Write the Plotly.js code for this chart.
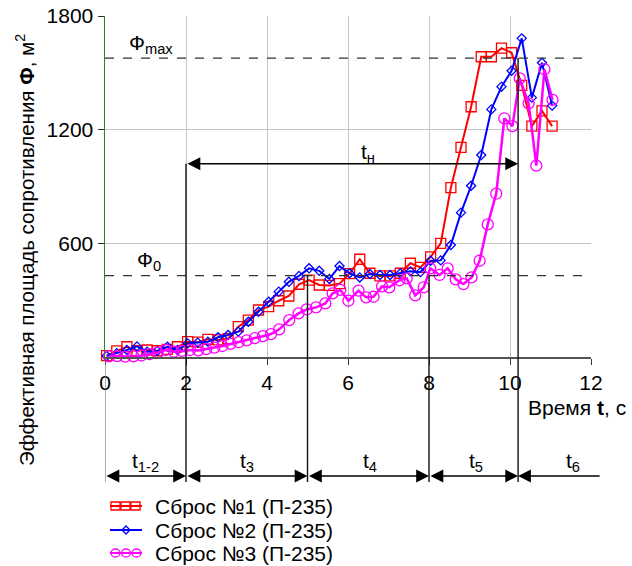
<!DOCTYPE html>
<html>
<head>
<meta charset="utf-8">
<script src="https://cdn.plot.ly/plotly-3.0.1.min.js"></script>
<style>html,body{margin:0;padding:0;background:#fff;}#chart{width:632px;height:566px;}</style>
</head>
<body>
<div id="chart"></div>
<script>
// ---- data ----
const seriesNames = ['Сброс №1 (П-235)', 'Сброс №2 (П-235)', 'Сброс №3 (П-235)'];

const t1 = [0.04,0.29,0.54,0.79,1.04,1.29,1.54,1.79,2.04,2.29,2.54,2.79,3.04,3.29,3.54,3.79,4.04,4.29,4.54,4.79,5.04,5.29,5.54,5.79,6.04,6.29,6.54,6.79,7.04,7.29,7.54,7.79,8.04,8.29,8.54,8.79,9.04,9.29,9.54,9.79,10.04,10.29,10.54,10.79,11.04];
const phi1 = [7,32,54,33,37,33,40,54,81,78,93,90,97,160,195,248,266,297,322,384,406,380,378,387,440,516,442,428,428,442,495,473,529,600,894,1107,1321,1585,1585,1630,1606,1434,1219,1299,1219];

const t2 = [0.04,0.29,0.54,0.79,1.04,1.29,1.54,1.79,2.04,2.29,2.54,2.79,3.04,3.29,3.54,3.79,4.04,4.29,4.54,4.79,5.04,5.29,5.54,5.79,6.04,6.29,6.54,6.79,7.04,7.29,7.54,7.79,8.04,8.29,8.54,8.79,9.04,9.29,9.54,9.79,10.04,10.29,10.54,10.79,11.04];
const phi2 = [5,20,37,56,28,32,54,37,72,76,81,104,116,134,186,239,292,345,397,428,468,455,412,480,442,420,438,433,433,442,452,448,508,510,591,762,904,1066,1307,1427,1511,1682,1369,1553,1327];

const t3 = [0.1,0.3,0.5,0.7,0.9,1.1,1.3,1.5,1.7,1.9,2.1,2.3,2.5,2.7,2.9,3.1,3.3,3.5,3.7,3.9,4.1,4.3,4.55,4.78,4.98,5.21,5.44,5.62,5.81,6.01,6.26,6.45,6.63,6.84,7.02,7.27,7.45,7.66,7.87,8.03,8.26,8.46,8.66,8.85,9.05,9.25,9.45,9.66,9.86,10.06,10.24,10.46,10.65,10.85,11.05];
const phi3 = [3,5,2,3,8,15,23,37,28,32,37,35,42,50,58,69,78,88,100,110,121,146,195,230,251,262,283,336,354,297,350,315,318,373,368,405,415,325,368,468,433,468,410,385,420,508,700,862,1260,1219,1471,1339,1010,1519,1357];

const xTickVals = [0,2,4,6,8,10,12];
const xTickText = ['0','2','4','6','8','10','12'];
const yTickVals = [600,1200,1800];
const yTickText = ['600','1200','1800'];

const phiMax = 1578;
const phi0 = 430;
const tnStart = 2, tnEnd = 10.2, tnLevel = 1020;
const phaseBounds = [0, 2, 5, 8, 10.2];
const phaseLabels = ['t<sub>1-2</sub>','t<sub>3</sub>','t<sub>4</sub>','t<sub>5</sub>','t<sub>6</sub>'];
const phaseLabelX = [1.0, 3.5, 6.55, 9.15, 11.55];
const t6End = 12.25;

// ---- build ----
const FONT = 'Liberation Sans, Arial, sans-serif';
const FS = 21;
const yMax = 1800;
const W = 632, H = 566;
const M = {l: 105, r: 41, t: 16, b: 209};
const PW = W - M.l - M.r, PH = H - M.t - M.b;
const px2paperX = px => (px - M.l) / PW;
const py2paperY = py => (H - M.b - py) / PH;

const colors = ['#ff0000', '#0000ff', '#ff00ff'];
const boundTopVal = [0, tnLevel, phi0, phi0, phiMax];
const bottomP = py2paperY(482);
const arrowP = py2paperY(476);
const labelP = py2paperY(462);

const traces = [
  {x: t1, y: phi1, name: seriesNames[0], mode: 'lines+markers', cliponaxis: false,
   line: {color: colors[0], width: 2},
   marker: {symbol: 'square-open', size: 10, color: colors[0], line: {width: 1.3}}},
  {x: t2, y: phi2, name: seriesNames[1], mode: 'lines+markers', cliponaxis: false,
   line: {color: colors[1], width: 2},
   marker: {symbol: 'diamond-open', size: 7, color: colors[1], line: {width: 1.3}}},
  {x: t3, y: phi3, name: seriesNames[2], mode: 'lines+markers', cliponaxis: false,
   line: {color: colors[2], width: 2.5},
   marker: {symbol: 'circle-open', size: 11, color: colors[2], line: {width: 1.3}}}
];

const shapes = [
  {type: 'line', xref: 'x', yref: 'y', x0: 0, x1: 12, y0: phiMax, y1: phiMax,
   line: {color: '#333', width: 1.2, dash: 'dash'}},
  {type: 'line', xref: 'x', yref: 'y', x0: 0, x1: 12, y0: phi0, y1: phi0,
   line: {color: '#333', width: 1.2, dash: 'dash'}}
];
phaseBounds.forEach((b, i) => {
  shapes.push({type: 'line', xref: 'x', yref: 'paper', x0: b, x1: b,
    y0: boundTopVal[i] / yMax, y1: bottomP,
    line: {color: i === 0 ? '#777' : '#111', width: i === 0 ? 1.2 : 1.4}});
});

const annotations = [
  {xref: 'x', yref: 'y', x: 0.55, y: 1652, text: 'Ф<sub>max</sub>', showarrow: false,
   xanchor: 'left', yanchor: 'middle', font: {family: FONT, size: FS, color: '#000'}},
  {xref: 'x', yref: 'y', x: 0.75, y: 508, text: 'Ф<sub>0</sub>', showarrow: false,
   xanchor: 'left', yanchor: 'middle', font: {family: FONT, size: FS, color: '#000'}},
  {xref: 'x', yref: 'y', x: 6.5, y: 1078, text: 't<sub>н</sub>', showarrow: false,
   xanchor: 'center', yanchor: 'middle', font: {family: FONT, size: FS, color: '#000'}},
  {xref: 'x', yref: 'y', axref: 'x', ayref: 'y', x: tnEnd, y: tnLevel, ax: tnStart, ay: tnLevel,
   text: '', showarrow: true, arrowhead: 2, startarrowhead: 2, arrowside: 'end+start',
   arrowsize: 1.6, arrowwidth: 1.6, arrowcolor: '#000', standoff: 0, startstandoff: 0},
  {xref: 'paper', yref: 'paper', x: px2paperX(25), y: py2paperY(250), textangle: -90, showarrow: false,
   text: 'Эффективная площадь сопротивления <b>Ф</b>, м<sup>2</sup>',
   xanchor: 'center', yanchor: 'middle', font: {family: FONT, size: 20.5, color: '#000'}},
  {xref: 'paper', yref: 'paper', x: px2paperX(628), y: py2paperY(407), showarrow: false,
   text: 'Время <b>t</b>, с', xanchor: 'right', yanchor: 'middle',
   font: {family: FONT, size: FS, color: '#000'}}
];
for (let i = 0; i < phaseBounds.length; i++) {
  const a = phaseBounds[i];
  const last = (i + 1 >= phaseBounds.length);
  const b = last ? t6End : phaseBounds[i + 1];
  annotations.push({xref: 'x', yref: 'paper', axref: 'x', ayref: 'pixel',
    x: last ? a : b, y: arrowP, ax: last ? b : a, ay: 0, text: '', showarrow: true,
    arrowhead: 2, startarrowhead: 2, arrowside: last ? 'end' : 'end+start',
    arrowsize: 1.6, arrowwidth: 1.6, arrowcolor: '#000', standoff: 0, startstandoff: 0});
  annotations.push({xref: 'x', yref: 'paper', x: phaseLabelX[i], y: labelP,
    text: phaseLabels[i], showarrow: false, xanchor: 'center', yanchor: 'middle',
    font: {family: FONT, size: FS, color: '#000'}});
}

// custom legend (drawn below the plot)
const legRowsPx = [506, 530, 553];
const legLineX = [110, 142];
const legTextX = 153;
seriesNames.forEach((name, i) => {
  const yc = py2paperY(legRowsPx[i]);
  shapes.push({type: 'line', xref: 'paper', yref: 'paper',
    x0: px2paperX(legLineX[0]), x1: px2paperX(legLineX[1]), y0: yc, y1: yc,
    line: {color: colors[i], width: 2}});
  if (i === 0) {
    [115.5, 125.5, 135.5].forEach(cx => shapes.push({type: 'rect', xref: 'paper', yref: 'paper',
      xsizemode: 'pixel', ysizemode: 'pixel', xanchor: px2paperX(cx), yanchor: yc,
      x0: -4.5, x1: 4.5, y0: -4, y1: 4, line: {color: colors[0], width: 1.3}}));
  } else if (i === 1) {
    shapes.push({type: 'path', xref: 'paper', yref: 'paper',
      xsizemode: 'pixel', ysizemode: 'pixel', xanchor: px2paperX(126), yanchor: yc,
      path: 'M -4 0 L 0 4 L 4 0 L 0 -4 Z', line: {color: colors[1], width: 1.3}});
  } else {
    [115.5, 126, 136.5].forEach(cx => shapes.push({type: 'circle', xref: 'paper', yref: 'paper',
      xsizemode: 'pixel', ysizemode: 'pixel', xanchor: px2paperX(cx), yanchor: yc,
      x0: -4.5, x1: 4.5, y0: -4, y1: 4, line: {color: colors[2], width: 1.3}}));
  }
  annotations.push({xref: 'paper', yref: 'paper', x: px2paperX(legTextX), y: yc,
    text: name, showarrow: false, xanchor: 'left', yanchor: 'middle',
    font: {family: FONT, size: FS, color: '#000'}});
});

const layout = {
  width: W, height: H,
  margin: M,
  paper_bgcolor: '#fff', plot_bgcolor: '#fff',
  font: {family: FONT, size: FS, color: '#000'},
  showlegend: false,
  xaxis: {range: [0, 12], tickvals: xTickVals, ticktext: xTickText,
    showgrid: true, gridcolor: '#c4c4c4', gridwidth: 1, zeroline: false,
    showline: true, linecolor: '#555', linewidth: 2,
    ticks: 'outside', ticklen: 6, tickcolor: '#333', tickwidth: 1,
    tickfont: {family: FONT, size: FS, color: '#000'}},
  yaxis: {range: [0, 1800], tickvals: yTickVals, ticktext: yTickText,
    showgrid: true, gridcolor: '#c4c4c4', gridwidth: 1, zeroline: false,
    showline: true, linecolor: '#2f7f2f', linewidth: 1.5,
    ticks: 'outside', ticklen: 6, tickcolor: '#333', tickwidth: 1,
    tickfont: {family: FONT, size: FS, color: '#000'}},
  shapes: shapes,
  annotations: annotations
};

Plotly.newPlot('chart', traces, layout, {staticPlot: true, displayModeBar: false});
</script>
</body>
</html>
